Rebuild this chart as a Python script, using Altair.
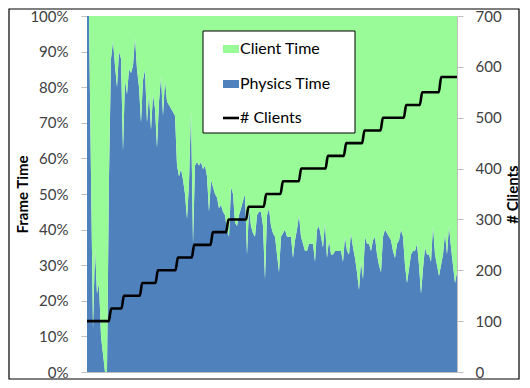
import altair as alt
import pandas as pd

# ---- data ----
physics_pct = [
    100, 100, 55, 12, 35, 22, 25, 10, 5, 0,
    0, 55, 88, 93, 86, 80, 90, 88, 62, 82,
    78, 85, 84, 86, 94, 85, 80, 70, 82, 85,
    70, 78, 68, 78, 74, 63, 76, 83, 72, 82,
    76, 75, 74, 73, 72, 58, 55, 57, 54, 50,
    43, 53, 74, 36, 58, 59, 58, 59, 57, 58,
    55, 45, 54, 52, 50, 49, 46, 47, 45, 44,
    40, 38, 52, 50, 42, 41, 44, 46, 48, 50,
    33, 46, 41, 39, 38, 44, 45, 45, 41, 26,
    44, 46, 41, 39, 38, 33, 28, 38, 39, 40,
    38, 38, 38, 32, 37, 40, 44, 38, 36, 34,
    34, 36, 36, 36, 31, 40, 41, 38, 35, 42,
    32, 37, 33, 33, 34, 34, 34, 34, 31, 38,
    34, 33, 39, 35, 32, 28, 23, 31, 26, 38,
    36, 36, 34, 37, 38, 33, 30, 28, 38, 40,
    39, 38, 37, 34, 32, 36, 37, 40, 38, 30,
    25, 29, 33, 34, 34, 36, 30, 22, 29, 35,
    33, 33, 31, 41, 33, 30, 27, 30, 33, 39,
    33, 41, 35, 30, 25, 28,
]
client_levels = [100, 125, 150, 175, 200, 225, 250, 275, 300, 325,
                 350, 375, 400, 425, 450, 475, 500, 525, 550, 580]
client_step_frames = [11.5, 17.85, 27, 34.85, 44.85, 53, 62.35, 70.15, 80.15, 89,
                      97.35, 106.5, 119.85, 129, 138.15, 147.35, 159, 167, 176.5]
series_names = ["Physics Time", "Client Time"]
legend_labels = ["Client Time", "Physics Time", "# Clients"]
left_ticks = list(range(0, 101, 10))
right_ticks = list(range(0, 701, 100))

GREEN = "#98FB98"
BLUE = "#4F81BD"
AXIS_GRAY = "#BFBFBF"
FONT = "Lato"
H = 356

frames = list(range(len(physics_pct)))
last_frame = frames[-1]

rows = []
for f, p in zip(frames, physics_pct):
    rows.append({"frame": f, "series": series_names[0], "share": p, "ord": 0})
    rows.append({"frame": f, "series": series_names[1], "share": 100 - p, "ord": 1})
area_df = pd.DataFrame(rows)

half = 0.6
pts = [(0, client_levels[0])]
for i, f in enumerate(client_step_frames):
    pts.append((f - half, client_levels[i]))
    pts.append((f + half, client_levels[i + 1]))
pts.append((last_frame, client_levels[-1]))
line_df = pd.DataFrame(pts, columns=["frame", "clients"])

x_enc = alt.X("frame:Q",
              scale=alt.Scale(domain=[0, last_frame], nice=False, zero=False),
              axis=alt.Axis(title=None, labels=False, ticks=False, grid=False,
                            domainColor=AXIS_GRAY))

area = alt.Chart(area_df).mark_area(interpolate="linear", strokeWidth=0).encode(
    x=x_enc,
    y=alt.Y("share:Q", stack="zero",
            scale=alt.Scale(domain=[0, 100], nice=False),
            axis=alt.Axis(orient="left", values=left_ticks,
                          labelExpr="datum.value + '%'",
                          title="Frame Time", titleFont=FONT, titleFontSize=15,
                          titleFontWeight="bold", titleColor="black",
                          titleAngle=270, titleX=-65, titleY=H / 2,
                          titleAlign="center", titleBaseline="middle",
                          labelFont=FONT, labelFontSize=15, labelColor="#404040",
                          labelPadding=13, tickSize=6, tickColor=AXIS_GRAY,
                          domainColor=AXIS_GRAY, grid=False)),
    color=alt.Color("series:N",
                    scale=alt.Scale(domain=series_names, range=[BLUE, GREEN]),
                    legend=None),
    order=alt.Order("ord:Q", sort="ascending"),
)

line = alt.Chart(line_df).mark_line(color="black", strokeWidth=2.6,
                                    interpolate="monotone").encode(
    x=alt.X("frame:Q"),
    y=alt.Y("clients:Q",
            scale=alt.Scale(domain=[0, 700], nice=False),
            axis=alt.Axis(orient="right", values=right_ticks,
                          title="# Clients", titleFont=FONT, titleFontSize=15,
                          titleFontWeight="bold", titleColor="black",
                          titleAngle=270, titleX=55, titleY=H / 2,
                          titleAlign="center", titleBaseline="middle",
                          labelFont=FONT, labelFontSize=15, labelColor="#404040",
                          labelPadding=12, tickSize=6, tickColor=AXIS_GRAY,
                          domainColor=AXIS_GRAY, grid=False)),
)

one = pd.DataFrame({"k": [0]})

def legend_text(label, y):
    return alt.Chart(pd.DataFrame({"label": [label]})).mark_text(
        align="left", baseline="middle", font=FONT, fontSize=16, color="black"
    ).encode(x=alt.value(153), y=alt.value(y), text="label:N")

legend_box = alt.Chart(one).mark_rect(fill="white", stroke="black", strokeWidth=1).encode(
    x=alt.value(116), x2=alt.value(268), y=alt.value(15), y2=alt.value(117))
sw_client = alt.Chart(one).mark_rect(fill=GREEN).encode(
    x=alt.value(136), x2=alt.value(152), y=alt.value(29), y2=alt.value(37))
sw_phys = alt.Chart(one).mark_rect(fill=BLUE).encode(
    x=alt.value(136), x2=alt.value(152), y=alt.value(64), y2=alt.value(72))
sw_line = alt.Chart(one).mark_rule(color="black", strokeWidth=2.6).encode(
    x=alt.value(136), x2=alt.value(152), y=alt.value(102))

border = alt.Chart(one).mark_rect(fill=None, fillOpacity=0, stroke="black",
                                  strokeWidth=1.2).encode(
    x=alt.value(-78), x2=alt.value(432), y=alt.value(-7), y2=alt.value(H + 7))

chart = alt.layer(
    area, line, legend_box, sw_client, sw_phys, sw_line,
    legend_text(legend_labels[0], 33),
    legend_text(legend_labels[1], 68),
    legend_text(legend_labels[2], 102),
    border,
).resolve_scale(y="independent").properties(
    width=370, height=H,
    autosize=alt.AutoSizeParams(type="none"),
    padding={"left": 79, "top": 8, "right": 63, "bottom": 8},
).configure_view(stroke=None).configure(background="white")

chart.save("out.html", embed_options={"renderer": "svg", "actions": False})
